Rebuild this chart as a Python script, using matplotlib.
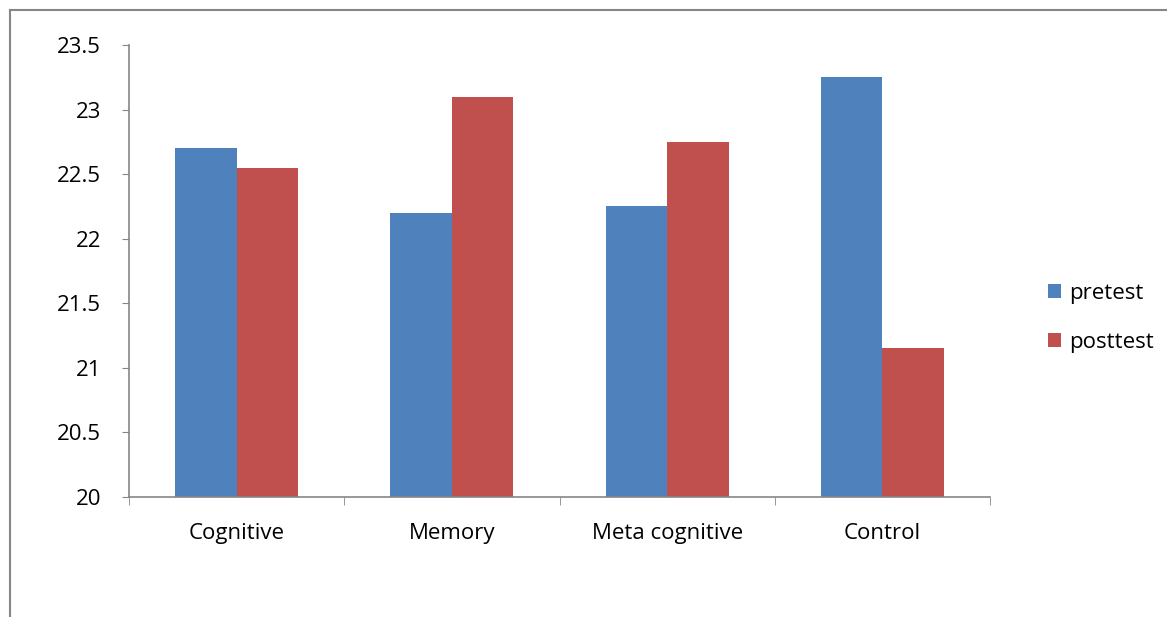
import matplotlib
matplotlib.use("Agg")
import matplotlib.pyplot as plt
import numpy as np
from matplotlib.lines import Line2D

categories = ["Cognitive", "Memory", "Meta cognitive", "Control"]
pretest = [22.7, 22.2, 22.25, 23.25]
posttest = [22.55, 23.1, 22.75, 21.15]
series_names = ["pretest", "posttest"]
yticks = [20, 20.5, 21, 21.5, 22, 22.5, 23, 23.5]

plt.rcParams['font.family'] = ['Open Sans', 'DejaVu Sans']

W, H = 1167, 617
fig = plt.figure(figsize=(W / 100, H / 100), dpi=100)
ax = fig.add_axes([129 / W, 1 - 497 / H, (990 - 129) / W, (497 - 45) / H])

x = np.arange(len(categories))
bw = 0.286
b1 = ax.bar(x - bw / 2, [v - 20 for v in pretest], bw, bottom=20, color="#4F81BD", label=series_names[0])
b2 = ax.bar(x + bw / 2, [v - 20 for v in posttest], bw, bottom=20, color="#C0504D", label=series_names[1])

ax.set_xlim(-0.5, len(categories) - 0.5)
ax.set_ylim(20, 23.5)
ax.set_yticks(yticks)
ax.set_yticklabels([f"{t:g}" for t in yticks])
ax.set_xticks(x)
ax.set_xticklabels(categories)
ax.tick_params(axis="x", length=0, pad=19, labelsize=16)
ax.set_xticks(np.arange(len(categories) + 1) - 0.5, minor=True)
ax.tick_params(axis="x", which="minor", length=6, color="#868686", direction="out")
ax.tick_params(axis="y", length=5, color="#868686", pad=15, labelsize=16)
for s in ["top", "right"]:
    ax.spines[s].set_visible(False)
for s in ["left", "bottom"]:
    ax.spines[s].set_color("#868686")
    ax.spines[s].set_linewidth(1.2)

leg = fig.legend(handles=[b1, b2], loc="center left",
                 bbox_to_anchor=(1028 / W, 1 - 318 / H), frameon=False,
                 fontsize=16, handlelength=0.6, handleheight=0.6,
                 handletextpad=0.36, labelspacing=1.25)

# outer border (left and top edges visible)
fig.add_artist(Line2D([10 / W, 10 / W], [0, 1 - 10 / H], color="#868686", lw=1.5, transform=fig.transFigure))
fig.add_artist(Line2D([10 / W, 1], [1 - 10 / H, 1 - 10 / H], color="#868686", lw=1.5, transform=fig.transFigure))

fig.savefig("out.png", dpi=100)
